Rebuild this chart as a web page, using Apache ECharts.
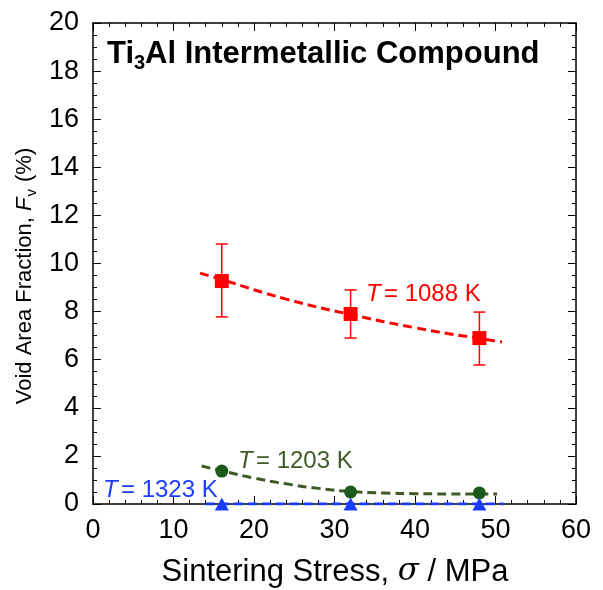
<!DOCTYPE html>
<html>
<head>
<meta charset="utf-8">
<script src="https://cdn.jsdelivr.net/npm/echarts@6/dist/echarts.min.js"></script>
<style>
  html, body { margin: 0; padding: 0; background: #fff; }
  #chart { width: 603px; height: 590px; }
</style>
</head>
<body>
<div id="chart"></div>
<script>
// sintering stress (MPa)
const stress = [16, 32, 48];

// T = 1088 K, void fraction with error bars
const f1088 = [9.27, 7.9, 6.9];
const f1088Lo = [7.78, 6.9, 5.78];
const f1088Hi = [10.81, 8.9, 7.98];
// T = 1203 K
const f1203 = [1.37, 0.5, 0.46];
// T = 1323 K
const f1323 = [0, 0, 0];

// fitted curves
const fit1088 = [[13.3, 9.6], [16, 9.33], [24, 8.52], [32, 7.88], [40, 7.33], [48, 6.88], [50.8, 6.74]];
const fit1203 = [[13.5, 1.58], [16, 1.38], [20, 1.08], [24, 0.84], [28, 0.65], [32, 0.52], [36, 0.46], [40, 0.43], [44, 0.42], [50.2, 0.42]];
const fit1323 = [[14, 0], [51, 0]];

const xTicks = { min: 0, max: 60, interval: 10 };
const yTicks = { min: 0, max: 20, interval: 2 };

const RED = '#ff0000';
const GREEN_LINE = '#3f5a25';
const GREEN_DOT = '#1c5a1c';
const BLUE = '#1a3cff';
const FONT = 'Liberation Sans, Arial, Helvetica, sans-serif';

const chart = echarts.init(document.getElementById('chart'));

function pairs(xs, ys) {
  return xs.map((x, i) => [x, ys[i]]);
}

const axisCommon = {
  type: 'value',
  axisLine: { show: true, onZero: false, lineStyle: { color: '#000', width: 1.5 } },
  axisTick: { show: true, inside: true, length: 8, lineStyle: { color: '#000', width: 1 } },
  minorTick: { show: true, length: 4, lineStyle: { color: '#000', width: 1 } },
  splitLine: { show: false },
  minorSplitLine: { show: false }
};

const option = {
  animation: false,
  backgroundColor: '#fff',
  grid: { left: 93, top: 23, width: 483, height: 481, containLabel: false },
  xAxis: [
    Object.assign({}, axisCommon, {
      position: 'bottom',
      min: xTicks.min, max: xTicks.max, interval: xTicks.interval,
      minorTick: Object.assign({}, axisCommon.minorTick, { splitNumber: 5 }),
      axisLabel: { color: '#000', fontSize: 27, fontFamily: FONT, margin: 13 }
    }),
    Object.assign({}, axisCommon, {
      position: 'top',
      min: xTicks.min, max: xTicks.max, interval: xTicks.interval,
      minorTick: Object.assign({}, axisCommon.minorTick, { splitNumber: 5 }),
      axisLabel: { show: false }
    })
  ],
  yAxis: [
    Object.assign({}, axisCommon, {
      position: 'left',
      min: yTicks.min, max: yTicks.max, interval: yTicks.interval,
      minorTick: Object.assign({}, axisCommon.minorTick, { splitNumber: 4 }),
      axisLabel: { color: '#000', fontSize: 27, fontFamily: FONT, margin: 14 }
    }),
    Object.assign({}, axisCommon, {
      position: 'right',
      min: yTicks.min, max: yTicks.max, interval: yTicks.interval,
      minorTick: Object.assign({}, axisCommon.minorTick, { splitNumber: 4 }),
      axisLabel: { show: false }
    })
  ],
  series: [
    {
      name: 'fit1088', type: 'line', data: fit1088, smooth: true, symbol: 'none',
      lineStyle: { color: RED, width: 3, type: [9, 5] }, z: 2
    },
    {
      name: 'fit1203', type: 'line', data: fit1203, smooth: true, symbol: 'none',
      lineStyle: { color: GREEN_LINE, width: 3, type: [9, 5] }, z: 2
    },
    {
      name: 'fit1323', type: 'line', data: fit1323, symbol: 'none',
      lineStyle: { color: BLUE, width: 3, type: [9, 5] }, z: 3
    },
    {
      name: 'err1088', type: 'custom', z: 4,
      data: stress.map((x, i) => [x, f1088Lo[i], f1088Hi[i]]),
      renderItem: function (params, api) {
        const lo = api.coord([api.value(0), api.value(1)]);
        const hi = api.coord([api.value(0), api.value(2)]);
        const cap = 6;
        const st = { stroke: RED, lineWidth: 1.5 };
        return {
          type: 'group',
          children: [
            { type: 'line', shape: { x1: lo[0], y1: lo[1], x2: hi[0], y2: hi[1] }, style: st },
            { type: 'line', shape: { x1: lo[0] - cap, y1: lo[1], x2: lo[0] + cap, y2: lo[1] }, style: st },
            { type: 'line', shape: { x1: hi[0] - cap, y1: hi[1], x2: hi[0] + cap, y2: hi[1] }, style: st }
          ]
        };
      }
    },
    {
      name: '1088 K', type: 'scatter', data: pairs(stress, f1088),
      symbol: 'rect', symbolSize: 14, itemStyle: { color: RED, opacity: 1 }, z: 5
    },
    {
      name: '1203 K', type: 'scatter', data: pairs(stress, f1203),
      symbol: 'circle', symbolSize: 13, itemStyle: { color: GREEN_DOT, opacity: 1 }, z: 5
    },
    {
      name: '1323 K', type: 'scatter', data: pairs(stress, f1323), clip: false,
      symbol: 'triangle', symbolSize: [14, 13], itemStyle: { color: BLUE, opacity: 1 }, z: 5
    }
  ],
  graphic: [
    {
      type: 'text', x: 107, y: 54, z: 10,
      style: {
        text: '{b|Ti}{s|3}{b|Al Intermetallic Compound}', verticalAlign: 'middle',
        rich: {
          b: { fontSize: 31, fontWeight: 'bold', fontFamily: FONT, fill: '#000', verticalAlign: 'bottom' },
          s: { fontSize: 20, fontWeight: 'bold', fontFamily: FONT, fill: '#000', verticalAlign: 'bottom', padding: [0, 0, -4, 0] }
        }
      }
    },
    {
      type: 'text', x: 366, y: 294, z: 10,
      style: {
        text: '{i|T} {n|= 1088 K}', verticalAlign: 'middle',
        rich: {
          i: { fontSize: 24, fontStyle: 'italic', fontFamily: FONT, fill: RED },
          n: { fontSize: 24, fontFamily: FONT, fill: RED }
        }
      }
    },
    {
      type: 'text', x: 238, y: 461, z: 10,
      style: {
        text: '{i|T} {n|= 1203 K}', verticalAlign: 'middle',
        rich: {
          i: { fontSize: 24, fontStyle: 'italic', fontFamily: FONT, fill: GREEN_LINE },
          n: { fontSize: 24, fontFamily: FONT, fill: GREEN_LINE }
        }
      }
    },
    {
      type: 'text', x: 103, y: 490, z: 10,
      style: {
        text: '{i|T} {n|= 1323 K}', verticalAlign: 'middle',
        rich: {
          i: { fontSize: 24, fontStyle: 'italic', fontFamily: FONT, fill: BLUE },
          n: { fontSize: 24, fontFamily: FONT, fill: BLUE }
        }
      }
    },
    {
      // x axis title
      type: 'text', x: 335, y: 572, z: 10,
      style: {
        text: '{n|Sintering Stress, }{i|σ}{n| / MPa}', align: 'center', verticalAlign: 'middle',
        rich: {
          n: { fontSize: 31, fontFamily: FONT, fill: '#000' },
          i: { fontSize: 31, fontStyle: 'italic', fontFamily: 'DejaVu Serif, serif', fill: '#000' }
        }
      }
    },
    {
      // y axis title
      type: 'text', x: 25, y: 276, rotation: Math.PI / 2, z: 10,
      style: {
        text: '{n|Void Area Fraction, }{i|F}{s|v}{n| (%)}', align: 'center', verticalAlign: 'middle',
        rich: {
          n: { fontSize: 22, fontFamily: FONT, fill: '#000', verticalAlign: 'bottom' },
          i: { fontSize: 22, fontStyle: 'italic', fontFamily: FONT, fill: '#000', verticalAlign: 'bottom' },
          s: { fontSize: 15, fontFamily: FONT, fill: '#000', verticalAlign: 'bottom', padding: [0, 1, -3, 1] }
        }
      }
    }
  ]
};

chart.setOption(option);
</script>
</body>
</html>
